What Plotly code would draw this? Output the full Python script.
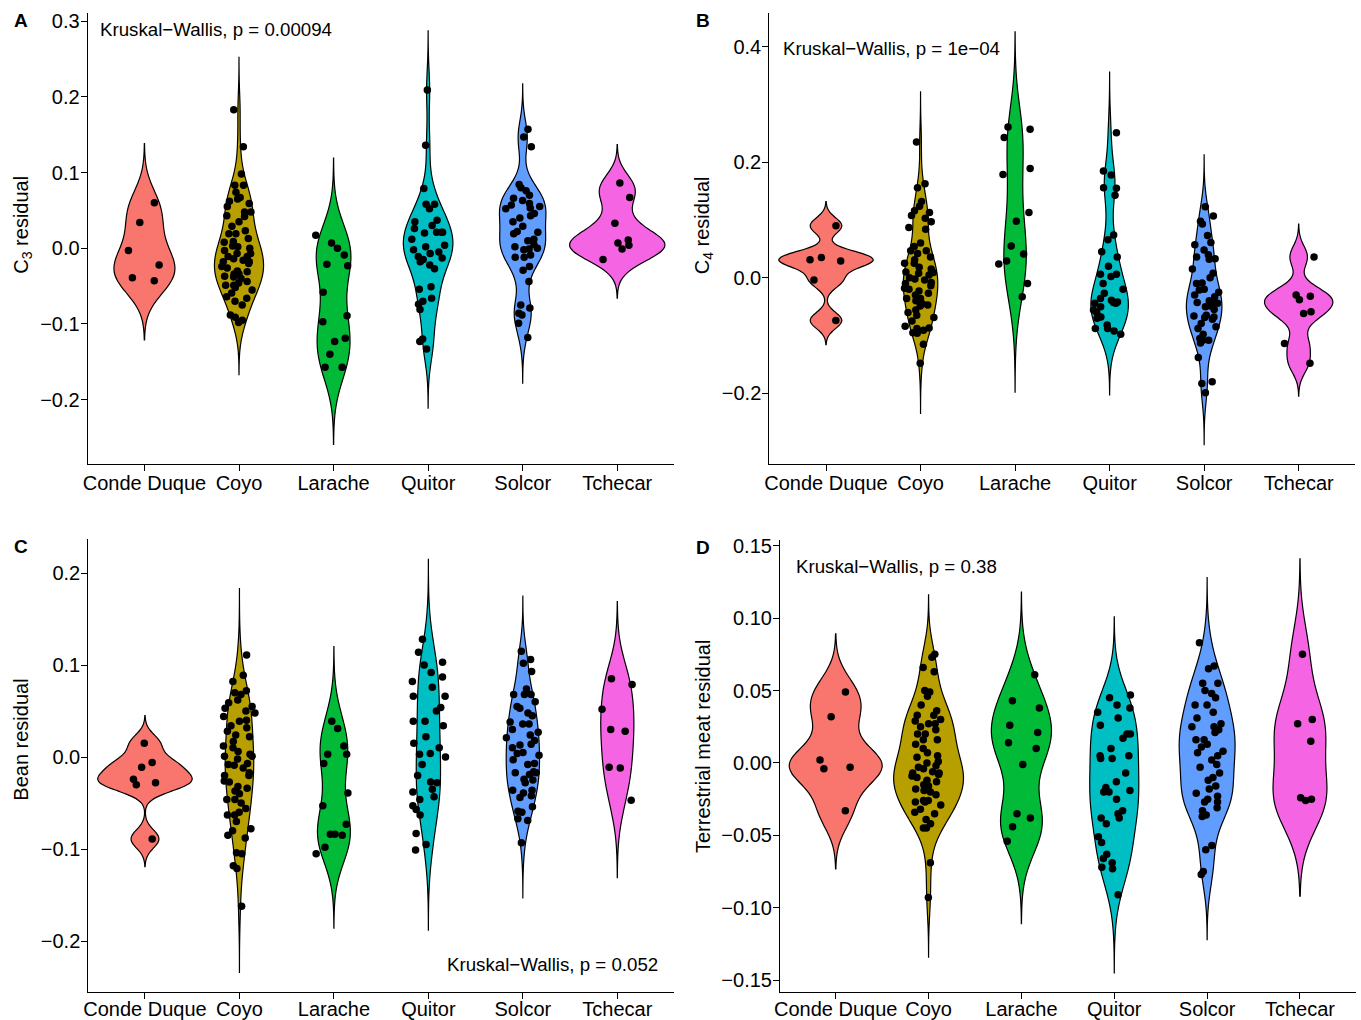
import numpy as np
import plotly.graph_objects as go

categories = ["Conde Duque", "Coyo", "Larache", "Quitor", "Solcor", "Tchecar"]
colors = ["#F8766D", "#B79F00", "#00BA38", "#00BFC4", "#619CFF", "#F564E3"]

# ---- Panel A: C3 residual ----
c3_conde_duque = [0.060, 0.034, -0.003, -0.022, -0.043, -0.039]
c3_coyo = [0.183, 0.134, 0.098, 0.083, 0.083, 0.074, 0.065, 0.062, 0.059, 0.067, 0.048, 0.043, 0.048,
           0.035, 0.023, 0.019, 0.019, 0.008, 0.003, 0.000, -0.003, -0.007, -0.011, -0.014, -0.018,
           -0.018, -0.016, -0.024, -0.026, -0.030, -0.034, -0.034, -0.037, -0.038, -0.040, -0.044,
           -0.049, -0.049, -0.052, -0.055, -0.059, -0.064, -0.066, -0.070, -0.075, -0.088, -0.091,
           -0.095, -0.098, 0.009, 0.013, 0.029, 0.055, 0.042, -0.020, -0.031, -0.046, -0.007, 0.002, -0.011]
c3_larache = [-0.021, -0.023, 0.017, 0.007, 0.000, -0.009, -0.058, -0.089, -0.097, -0.119, -0.123,
              -0.140, -0.157, -0.157]
c3_quitor = [0.209, 0.136, 0.079, 0.058, 0.058, 0.052, 0.037, 0.035, 0.021, 0.021, 0.026, 0.020, 0.021,
             0.012, 0.002, 0.004, -0.002, -0.007, -0.011, -0.015, -0.018, -0.022, -0.027, -0.051, -0.054,
             -0.066, -0.070, -0.074, -0.081, -0.120, -0.123, -0.133, -0.013, 0.030, -0.005]
c3_solcor = [0.157, 0.147, 0.134, 0.084, 0.076, 0.080, 0.070, 0.066, 0.059, 0.052, 0.057, 0.055, 0.053,
             0.046, 0.040, 0.035, 0.029, 0.021, 0.019, 0.022, 0.012, 0.010, 0.000, -0.001, 0.002, -0.002,
             -0.009, -0.012, -0.012, -0.024, -0.029, -0.044, -0.079, -0.075, -0.086, -0.088, -0.099,
             -0.118, 0.063, 0.043, 0.005]
c3_tchecar = [0.086, 0.067, 0.033, 0.011, 0.007, -0.001, 0.004, -0.015]

# ---- Panel B: C4 residual ----
c4_conde_duque = [0.090, 0.031, 0.029, 0.035, -0.004, -0.074]
c4_coyo = [0.235, 0.163, 0.156, 0.132, 0.124, 0.108, 0.116, 0.113, 0.103, 0.097, 0.084, 0.087, 0.047,
           0.054, 0.047, 0.042, 0.036, 0.025, 0.031, 0.025, 0.010, 0.008, 0.009, -0.004, 0.005, -0.010,
           -0.014, -0.020, -0.023, -0.027, -0.030, -0.036, -0.036, -0.049, -0.047, -0.056, -0.065,
           -0.069, -0.087, -0.088, -0.084, -0.091, -0.096, -0.115, -0.148, -0.002, -0.008, 0.015,
           -0.040, -0.060, -0.075, -0.095, 0.000, -0.018, 0.060, -0.045, 0.018]
c4_larache = [0.257, 0.261, 0.243, 0.189, 0.179, 0.113, 0.098, 0.041, 0.055, 0.024, 0.029, -0.010, -0.033]
c4_quitor = [0.251, 0.185, 0.178, 0.155, 0.156, 0.143, 0.074, 0.066, 0.045, 0.036, 0.006, 0.002, 0.006,
             -0.020, -0.036, -0.042, -0.027, -0.039, -0.044, -0.044, -0.043, -0.050, -0.056, -0.068,
             -0.070, -0.082, -0.088, -0.092, -0.088, -0.098, -0.010, -0.060, 0.020]
c4_solcor = [0.123, 0.107, 0.098, 0.093, 0.073, 0.061, 0.057, 0.040, 0.048, 0.036, 0.033, 0.032, -0.009,
             0.008, -0.010, -0.020, -0.021, -0.030, -0.033, -0.043, -0.044, -0.043, -0.049, -0.066,
             -0.079, -0.069, -0.072, -0.065, -0.068, -0.088, -0.098, -0.113, -0.105, -0.108, -0.108,
             -0.138, -0.183, -0.180, -0.199, -0.055, -0.040, 0.015, -0.085, -0.050, 0.000, -0.025]
c4_tchecar = [0.036, -0.030, -0.038, -0.032, -0.062, -0.059, -0.114, -0.148]

# ---- Panel C: Bean residual ----
bean_conde_duque = [0.015, -0.006, -0.011, -0.024, -0.028, -0.030, -0.089]
bean_coyo = [0.111, 0.082, 0.089, 0.070, 0.072, 0.068, 0.055, 0.059, 0.053, 0.048, 0.044, 0.039, 0.034,
             0.032, 0.024, 0.028, 0.022, 0.017, 0.012, 0.003, 0.001, 0.001, -0.007, -0.008, -0.009,
             0.006, -0.020, -0.020, -0.017, -0.026, -0.027, -0.034, -0.037, -0.032, -0.046, -0.046,
             -0.056, -0.063, -0.063, -0.070, -0.080, -0.088, -0.078, -0.104, -0.105, -0.118, -0.121,
             -0.162, 0.040, 0.010, -0.012, -0.050, -0.040, 0.062, -0.002, 0.050, -0.060, -0.085]
bean_larache = [0.039, 0.031, 0.012, 0.003, 0.003, -0.007, -0.039, -0.053, -0.073, -0.084, -0.085,
                -0.084, -0.098, -0.105]
bean_quitor = [0.128, 0.114, 0.103, 0.100, 0.087, 0.076, 0.092, 0.082, 0.066, 0.066, 0.054, 0.039, 0.039,
               0.034, 0.022, 0.015, 0.003, 0.004, 0.000, -0.008, -0.027, -0.028, -0.038, -0.043, -0.046,
               -0.053, -0.057, -0.063, -0.083, -0.095, -0.101, 0.050, -0.020, 0.010, -0.035]
bean_solcor = [0.115, 0.106, 0.102, 0.093, 0.068, 0.068, 0.068, 0.074, 0.055, 0.053, 0.048, 0.045, 0.038,
               0.036, 0.036, 0.024, 0.027, 0.021, 0.014, 0.013, 0.010, 0.004, 0.005, 0.002, -0.007,
               -0.008, -0.017, -0.016, -0.017, -0.019, -0.024, -0.028, -0.036, -0.036, -0.039, -0.042,
               -0.044, -0.054, -0.060, -0.059, -0.067, -0.069, -0.093, 0.030, -0.003, 0.060, -0.025, 0.018]
bean_tchecar = [0.085, 0.079, 0.052, 0.028, 0.030, -0.011, -0.012, -0.047]

# ---- Panel D: Terrestrial meat residual ----
meat_conde_duque = [0.049, 0.032, 0.002, -0.004, -0.003, -0.033]
meat_coyo = [0.075, 0.073, 0.063, 0.066, 0.050, 0.049, 0.046, 0.036, 0.033, 0.033, 0.029, 0.027, 0.027,
             0.025, 0.023, 0.020, 0.020, 0.016, 0.016, 0.013, 0.007, 0.004, 0.005, 0.001, -0.003, -0.004,
             -0.006, -0.008, -0.007, -0.007, -0.010, -0.009, -0.013, -0.012, -0.015, -0.016, -0.020,
             -0.019, -0.027, -0.026, -0.026, -0.027, -0.029, -0.034, -0.035, -0.039, -0.042, -0.045,
             -0.045, -0.069, -0.093, 0.040, 0.010, -0.022, -0.032, 0.000, 0.030, -0.002, -0.018]
meat_larache = [0.061, 0.043, 0.038, 0.026, 0.021, 0.014, 0.010, -0.001, -0.035, -0.038, -0.044, -0.054]
meat_quitor = [0.045, 0.047, 0.040, 0.038, 0.035, 0.031, 0.026, 0.020, 0.020, 0.017, 0.003, 0.005, 0.003,
               0.005, -0.007, -0.013, -0.017, -0.020, -0.020, -0.019, -0.033, -0.038, -0.042, -0.038,
               -0.035, -0.051, -0.063, -0.066, -0.069, -0.072, -0.073, -0.091, 0.010, -0.025, -0.055]
meat_solcor = [0.083, 0.065, 0.067, 0.055, 0.055, 0.050, 0.048, 0.040, 0.040, 0.031, 0.025, 0.025, 0.027,
               0.023, 0.021, 0.016, 0.016, 0.013, 0.011, 0.007, 0.008, 0.002, -0.001, -0.007, -0.010,
               -0.012, -0.016, -0.021, -0.027, -0.023, -0.025, -0.027, -0.031, -0.036, -0.037, -0.057,
               -0.060, -0.075, -0.077, 0.035, -0.003, 0.005, -0.018, 0.045, -0.033]
meat_tchecar = [0.075, 0.030, 0.027, 0.015, -0.024, -0.026, -0.025]

# kernel bandwidths of the density estimate (one per violin, as in the reference)
bw_c3 = [0.026, 0.023, 0.034, 0.026, 0.020, 0.017]
bw_c4 = [0.014, 0.029, 0.055, 0.035, 0.030, 0.019]
bw_bean = [0.010, 0.024, 0.027, 0.029, 0.020, 0.028]
bw_meat = [0.0134, 0.0137, 0.019, 0.018, 0.015, 0.022]

# y axis ranges and tick labels
c3_range = [-0.2853, 0.311]
c4_range = [-0.323, 0.459]
bean_range = [-0.255, 0.237]
meat_range = [-0.158, 0.154]
c3_ticks = [-0.2, -0.1, 0.0, 0.1, 0.2, 0.3]
c3_ticklabels = ["\u22120.2", "\u22120.1", "0.0", "0.1", "0.2", "0.3"]
c4_ticks = [-0.2, 0.0, 0.2, 0.4]
c4_ticklabels = ["\u22120.2", "0.0", "0.2", "0.4"]
bean_ticks = [-0.2, -0.1, 0.0, 0.1, 0.2]
bean_ticklabels = ["\u22120.2", "\u22120.1", "0.0", "0.1", "0.2"]
meat_ticks = [-0.15, -0.10, -0.05, 0.00, 0.05, 0.10, 0.15]
meat_ticklabels = ["\u22120.15", "\u22120.10", "\u22120.05", "0.00", "0.05", "0.10", "0.15"]

p_labels = ["Kruskal\u2212Wallis, p = 0.00094", "Kruskal\u2212Wallis, p = 1e\u221204",
            "Kruskal\u2212Wallis, p = 0.052", "Kruskal\u2212Wallis, p = 0.38"]

W, H = 1361, 1020
FONT = "Liberation Sans, Arial, Helvetica, sans-serif"


def max_density(v, bw):
    v = np.asarray(v, float)
    grid = np.linspace(v.min() - 3 * bw, v.max() + 3 * bw, 512)
    d = np.exp(-0.5 * ((grid[:, None] - v[None, :]) / bw) ** 2).sum(1) / (len(v) * bw * np.sqrt(2 * np.pi))
    return d.max()


panels = [
    dict(groups=[c3_conde_duque, c3_coyo, c3_larache, c3_quitor, c3_solcor, c3_tchecar], bws=bw_c3,
         yrange=c3_range, title="C<sub>3</sub> residual", ticks=c3_ticks, ticklabels=c3_ticklabels,
         letter="A", box=(87.7, 674.0, 12.7, 464.3), title_pos=(21.7, 225), letter_pos=(20.5, 20.5),
         p=p_labels[0], p_pos=(97.5, 29.5), p_anchor="left", xstandoff=-5),
    dict(groups=[c4_conde_duque, c4_coyo, c4_larache, c4_quitor, c4_solcor, c4_tchecar], bws=bw_c4,
         yrange=c4_range, title="C<sub>4</sub> residual", ticks=c4_ticks, ticklabels=c4_ticklabels,
         letter="B", box=(769.3, 1355.4, 12.7, 464.3), title_pos=(703.3, 225), letter_pos=(702.5, 20.0),
         p=p_labels[1], p_pos=(780.5, 48.0), p_anchor="left", xstandoff=-5),
    dict(groups=[bean_conde_duque, bean_coyo, bean_larache, bean_quitor, bean_solcor, bean_tchecar],
         bws=bw_bean, yrange=bean_range, title="Bean residual", ticks=bean_ticks,
         ticklabels=bean_ticklabels, letter="C", box=(88.3, 674.0, 539.0, 991.7),
         title_pos=(20.7, 740), letter_pos=(20.5, 546.5),
         p=p_labels[2], p_pos=(660.0, 964.0), p_anchor="right", xstandoff=-7),
    dict(groups=[meat_conde_duque, meat_coyo, meat_larache, meat_quitor, meat_solcor, meat_tchecar],
         bws=bw_meat, yrange=meat_range, title="Terrestrial meat residual", ticks=meat_ticks,
         ticklabels=meat_ticklabels, letter="D", box=(780.0, 1355.7, 540.0, 991.7),
         title_pos=(703.0, 746), letter_pos=(702.5, 547.0),
         p=p_labels[3], p_pos=(794.0, 566.5), p_anchor="left", xstandoff=-7),
]

fig = go.Figure()
annotations = []
layout_axes = {}

for k, pan in enumerate(panels):
    idx = "" if k == 0 else str(k + 1)
    xa, ya = "x" + idx, "y" + idx
    groups = [np.asarray(g, float) for g in pan["groups"]]
    bws = pan["bws"]
    maxd = [max_density(g, b) for g, b in zip(groups, bws)]
    top = max(maxd)

    for i, (g, b) in enumerate(zip(groups, bws)):
        fig.add_trace(go.Violin(
            x=[i + 1] * len(g), y=g, xaxis=xa, yaxis=ya,
            width=1.0 * maxd[i] / top, bandwidth=b,
            spanmode="manual", span=[g.min() - 3 * b, g.max() + 3 * b],
            scalemode="width", fillcolor=colors[i], opacity=1,
            line=dict(color="black", width=1.2),
            points=False, box_visible=False, meanline_visible=False,
            hoverinfo="skip", showlegend=False))

    allx, ally = [], []
    for i, g in enumerate(groups):
        allx += [i + 1] * len(g)
        ally += list(g)
    fig.add_trace(go.Box(
        x=allx, y=ally, xaxis=xa, yaxis=ya, boxpoints="all", jitter=1, pointpos=0,
        width=0.4, fillcolor="rgba(0,0,0,0)", line=dict(width=0, color="rgba(0,0,0,0)"),
        marker=dict(color="black", size=7.5, line=dict(width=0)),
        whiskerwidth=0, hoverinfo="skip", showlegend=False))

    x0, x1, yt, yb = pan["box"]
    layout_axes["xaxis" + idx] = dict(
        domain=[x0 / W, x1 / W], anchor=ya, range=[0.4, 6.6], automargin=False,
        tickmode="array", tickvals=list(range(1, 7)), ticktext=categories,
        showline=True, linecolor="black", linewidth=1.1, ticks="outside", ticklen=6,
        tickwidth=1.1, tickcolor="black", showgrid=False, zeroline=False,
        ticklabelstandoff=pan["xstandoff"],
        tickfont=dict(family=FONT, size=20, color="black"), fixedrange=True)
    layout_axes["yaxis" + idx] = dict(
        domain=[1 - yb / H, 1 - yt / H], anchor=xa, range=pan["yrange"], automargin=False,
        tickmode="array", tickvals=pan["ticks"], ticktext=pan["ticklabels"],
        showline=True, linecolor="black", linewidth=1.1, ticks="outside", ticklen=6,
        tickwidth=1.1, tickcolor="black", showgrid=False, zeroline=False, ticklabelstandoff=-3,
        tickfont=dict(family=FONT, size=20, color="black"), fixedrange=True)

    tx, ty = pan["title_pos"]
    annotations.append(dict(text=pan["title"], x=tx / W, y=1 - ty / H, xref="paper", yref="paper",
                            textangle=-90, showarrow=False, xanchor="center", yanchor="middle",
                            font=dict(family=FONT, size=20, color="black")))
    lx, ly = pan["letter_pos"]
    annotations.append(dict(text="<b>" + pan["letter"] + "</b>", x=lx / W, y=1 - ly / H,
                            xref="paper", yref="paper", showarrow=False,
                            xanchor="center", yanchor="middle",
                            font=dict(family=FONT, size=19, color="black")))
    px_, py_ = pan["p_pos"]
    annotations.append(dict(text=pan["p"], x=px_ / W, y=1 - py_ / H, xref="paper", yref="paper",
                            showarrow=False, xanchor=pan["p_anchor"], yanchor="middle",
                            font=dict(family=FONT, size=18.7, color="black")))

fig.update_layout(
    width=W, height=H, autosize=False,
    margin=dict(l=0, r=0, t=0, b=0, pad=0, autoexpand=False),
    paper_bgcolor="white", plot_bgcolor="white", showlegend=False,
    violinmode="overlay", boxmode="overlay",
    font=dict(family=FONT, size=20, color="black"),
    annotations=annotations, **layout_axes)

fig.write_html("out.html",
               post_script="document.body.style.margin='0px';document.body.style.padding='0px';")
